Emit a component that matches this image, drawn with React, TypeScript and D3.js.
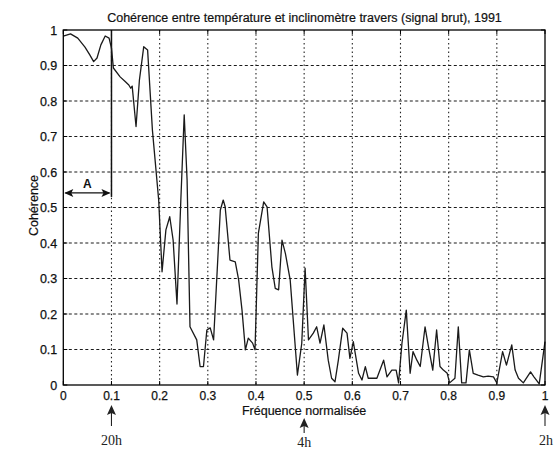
import React from "react";
import * as d3 from "d3";

const freq: number[] = [
  0, 0.015, 0.03, 0.045, 0.055, 0.063, 0.07, 0.078, 0.087, 0.095, 0.1, 0.104, 0.118, 0.129, 0.136, 0.14, 0.143,
  0.151, 0.158, 0.167, 0.175, 0.185, 0.198, 0.205, 0.213, 0.221, 0.228, 0.236, 0.244, 0.251, 0.257, 0.263,
  0.277, 0.284, 0.291, 0.298, 0.305, 0.312, 0.326, 0.332, 0.336, 0.346, 0.357, 0.364, 0.371, 0.378, 0.384,
  0.393, 0.398, 0.405, 0.416, 0.423, 0.433, 0.44, 0.447, 0.454, 0.461, 0.471, 0.486, 0.495, 0.502, 0.509,
  0.519, 0.526, 0.533, 0.541, 0.55, 0.557, 0.564, 0.571, 0.58, 0.589, 0.595, 0.602, 0.613, 0.62, 0.627,
  0.633, 0.651, 0.665, 0.672, 0.682, 0.691, 0.696, 0.703, 0.712, 0.72, 0.726, 0.734, 0.741, 0.751, 0.758,
  0.767, 0.775, 0.782, 0.789, 0.797, 0.802, 0.813, 0.82, 0.827, 0.836, 0.843, 0.851, 0.861, 0.872, 0.882,
  0.893, 0.9, 0.912, 0.92, 0.931, 0.938, 0.945, 0.955, 0.97, 0.977, 0.988, 1.0,
];

const coherence: number[] = [
  0.983, 0.989, 0.977, 0.952, 0.93, 0.911, 0.921, 0.958, 0.983, 0.977, 0.949, 0.893, 0.868, 0.854, 0.845, 0.836, 0.842,
  0.728, 0.859, 0.953, 0.944, 0.718, 0.521, 0.319, 0.437, 0.474, 0.408, 0.228, 0.521, 0.761, 0.577, 0.164,
  0.127, 0.052, 0.052, 0.155, 0.161, 0.127, 0.493, 0.521, 0.502, 0.352, 0.347, 0.296, 0.211, 0.099, 0.132,
  0.118, 0.099, 0.428, 0.516, 0.502, 0.333, 0.272, 0.268, 0.408, 0.371, 0.296, 0.028, 0.117, 0.329, 0.127,
  0.146, 0.164, 0.118, 0.169, 0.07, 0.019, 0.009, 0.07, 0.16, 0.146, 0.075, 0.122, 0.033, 0.014, 0.052,
  0.019, 0.019, 0.07, 0.023, 0.042, 0.042, 0.006, 0.117, 0.211, 0.033, 0.094, 0.07, 0.052, 0.164, 0.108,
  0.042, 0.155, 0.052, 0.042, 0.033, 0.006, 0.019, 0.164, 0.006, 0.006, 0.099, 0.033, 0.028, 0.023, 0.025,
  0.023, 0.006, 0.094, 0.056, 0.113, 0.042, 0.019, 0.006, 0.037, 0.023, 0.003, 0.122,
];

const xTicks: number[] = [0, 0.1, 0.2, 0.3, 0.4, 0.5, 0.6, 0.7, 0.8, 0.9, 1];
const yTicks: number[] = [0, 0.1, 0.2, 0.3, 0.4, 0.5, 0.6, 0.7, 0.8, 0.9, 1];

const periodMarks: { f: number; label: string; low: boolean }[] = [
  { f: 0.1, label: "20h", low: false },
  { f: 0.5, label: "4h", low: true },
  { f: 1.0, label: "2h", low: false },
];

const bandA: number[] = [0, 0.1];
const bandALevel = 0.541;

const fmt = (v: number) => (v === 0 ? "0" : v === 1 ? "1" : String(v));

export default function App() {
  const W = 557, H = 450;
  const x = d3.scaleLinear().domain([0, 1]).range([63.3, 545]);
  const y = d3.scaleLinear().domain([0, 1]).range([385, 30]);
  const pts = freq.map((f, i) => [f, coherence[i]] as [number, number]);
  const line = d3.line<[number, number]>().x(d => x(d[0])).y(d => y(d[1]));
  const sans = "'Liberation Sans', Arial, sans-serif";
  const serif = "'Liberation Serif', 'Times New Roman', serif";
  const ink = "#111";

  const arrowHead = (cx: number, tipY: number) =>
    `M${cx},${tipY} L${cx - 4.5},${tipY + 10} L${cx},${tipY + 8} L${cx + 4.5},${tipY + 10} Z`;

  return (
    <svg width={W} height={H} style={{ position: "absolute", left: 0, top: 0, background: "#fff" }}>
      <rect x={0} y={0} width={W} height={H} fill="#fff" />
      {/* grid */}
      {xTicks.slice(1, -1).map(t => (
        <line key={"gx" + t} x1={x(t)} x2={x(t)} y1={y(1)} y2={y(0)} stroke="#222" strokeWidth={1.1}
          strokeDasharray="1.5,2.8" />
      ))}
      {yTicks.slice(1, -1).map(t => (
        <line key={"gy" + t} x1={x(0)} x2={x(1)} y1={y(t)} y2={y(t)} stroke="#1a1a1a" strokeWidth={1.1}
          strokeDasharray="3,2.5" />
      ))}
      {/* tick marks */}
      {xTicks.map(t => (
        <g key={"tx" + t}>
          <line x1={x(t)} x2={x(t)} y1={y(0)} y2={y(0) - 4} stroke="#000" />
          <line x1={x(t)} x2={x(t)} y1={y(1)} y2={y(1) + 4} stroke="#000" />
        </g>
      ))}
      {yTicks.map(t => (
        <g key={"ty" + t}>
          <line x1={x(0)} x2={x(0) + 4} y1={y(t)} y2={y(t)} stroke="#000" />
          <line x1={x(1)} x2={x(1) - 4} y1={y(t)} y2={y(t)} stroke="#000" />
        </g>
      ))}
      {/* annotation A */}
      <line x1={x(bandA[1])} x2={x(bandA[1])} y1={y(1)} y2={y(bandALevel) + 4} stroke={ink} strokeWidth={1.5} />
      <line x1={x(bandA[0]) + 2} x2={x(bandA[1]) - 2} y1={y(bandALevel)} y2={y(bandALevel)} stroke={ink} strokeWidth={1.3} />
      <path d={`M${x(bandA[0]) + 1},${y(bandALevel)} l9,-4 l-2,4 l2,4 Z`} fill={ink} />
      <path d={`M${x(bandA[1]) - 1},${y(bandALevel)} l-9,-4 l2,4 l-2,4 Z`} fill={ink} />
      <text x={x((bandA[0] + bandA[1]) / 2)} y={y(bandALevel) - 5} textAnchor="middle" fontFamily={sans}
        fontWeight="bold" fontSize={12} fill={ink}>A</text>
      {/* data line */}
      <path d={line(pts) || ""} fill="none" stroke="#1a1a1a" strokeWidth={1.3} strokeLinejoin="round" />
      {/* frame */}
      <rect x={x(0)} y={y(1)} width={x(1) - x(0)} height={y(0) - y(1)} fill="none" stroke="#000" strokeWidth={1.3} />
      {/* tick labels */}
      {xTicks.map(t => (
        <text key={"lx" + t} x={x(t)} y={y(0) + 15} textAnchor="middle" fontFamily={sans} fontSize={12}
          fill={ink} stroke={ink} strokeWidth={0.25}>{fmt(t)}</text>
      ))}
      {yTicks.map(t => (
        <text key={"ly" + t} x={x(0) - 6} y={y(t) + 4.5} textAnchor="end" fontFamily={sans} fontSize={12.5}
          fill={ink} stroke={ink} strokeWidth={0.25}>{fmt(t)}</text>
      ))}
      {/* titles */}
      <text x={304.5} y={22} textAnchor="middle" fontFamily={sans} fontSize={12.5} fill={ink} stroke={ink}
        strokeWidth={0.2}>
        Cohérence entre température et inclinomètre travers (signal brut), 1991
      </text>
      <text x={(x(0) + x(1)) / 2} y={415} textAnchor="middle" fontFamily={sans} fontSize={12.5} fill={ink}
        stroke={ink} strokeWidth={0.2}>
        Fréquence normalisée
      </text>
      <text transform={`translate(38,${(y(0) + y(1)) / 2 - 2}) rotate(-90)`} textAnchor="middle" fontFamily={sans}
        fontSize={12.5} fill={ink} stroke={ink} strokeWidth={0.2}>Cohérence</text>
      {/* period marks */}
      {periodMarks.map(p => {
        const cx = x(p.f);
        const tip = p.low ? 418 : 405;
        const end = p.low ? 433 : 426;
        return (
          <g key={p.label}>
            <path d={arrowHead(cx, tip)} fill="#222" />
            <line x1={cx} x2={cx} y1={tip + 7} y2={end} stroke="#222" strokeWidth={1.1} />
            <text x={p.f === 1 ? cx + 1 : cx} y={p.low ? 447 : 445} textAnchor="middle" fontFamily={serif}
              fontSize={14} fill="#222">{p.label}</text>
          </g>
        );
      })}
    </svg>
  );
}
